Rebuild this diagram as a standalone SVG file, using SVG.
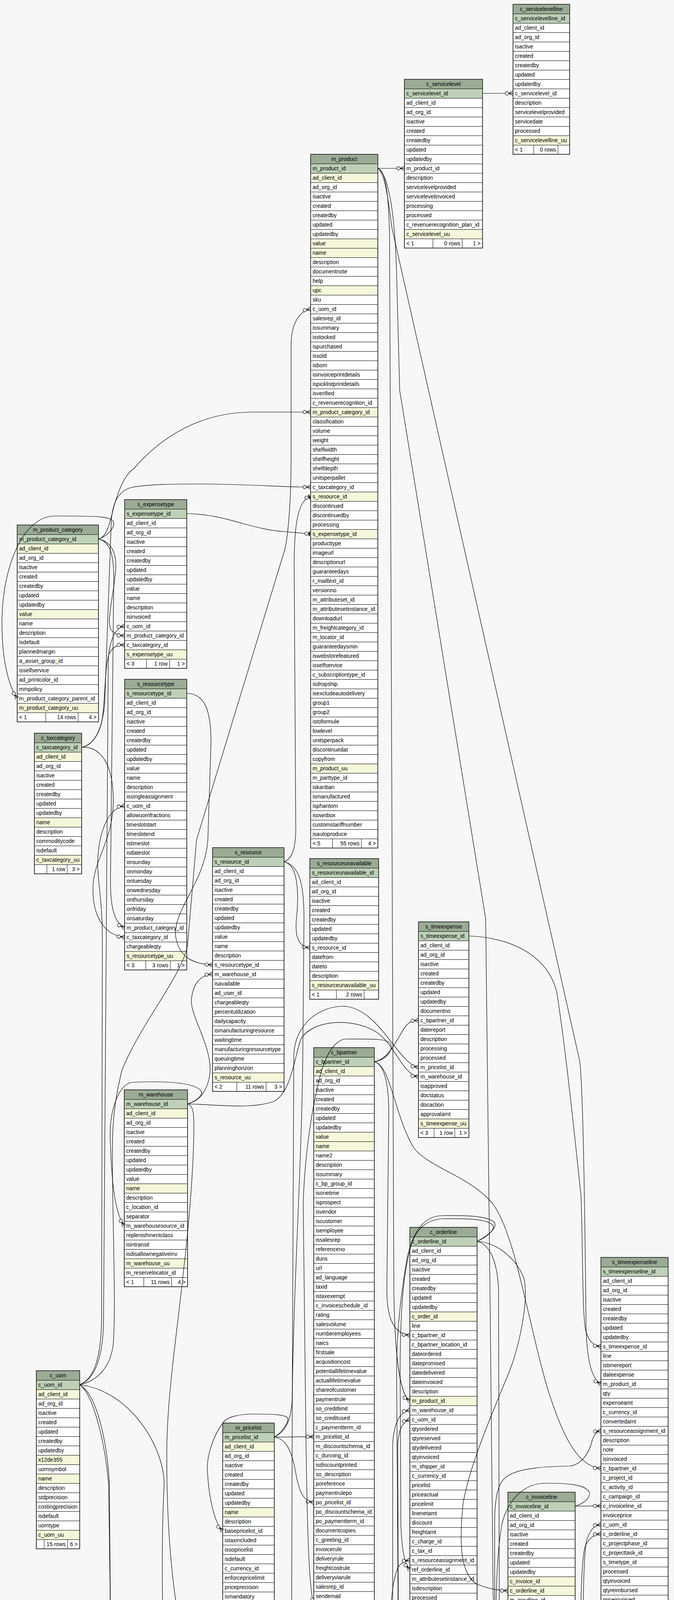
<svg xmlns="http://www.w3.org/2000/svg" width="1725" height="5210" viewBox="0 0 1725 5210">
<style>
text{font-family:"Liberation Sans",Arial,Helvetica,sans-serif;font-size:14px;fill:#000}
.c{text-anchor:middle}
.r{text-anchor:end}
.b{fill:#fff}
.h{fill:#9bab96}
.p{fill:#bed1b8}
.i{fill:#f4f7da}
.o{fill:none;stroke:#3a3a3a;stroke-width:2}
.l{fill:none;stroke:#000;stroke-width:1}
.e{fill:none;stroke:#000;stroke-width:1.2}
.cr{marker-end:url(#cr)}
.te{marker-end:url(#te)}
</style>
<defs>
<pattern id="rw" patternUnits="userSpaceOnUse" width="300" height="24"><rect width="300" height="1" fill="#000"/></pattern>
<marker id="cr" markerUnits="userSpaceOnUse" orient="auto" refX="0" refY="0" markerWidth="1" markerHeight="1" overflow="visible">
<path d="M-11,0L0,-5.5M-11,0L0,0M-11,0L0,5.5" fill="none" stroke="#000" stroke-width="1.2"/>
<circle cx="-15.3" cy="0" r="4.3" fill="#f7f7f7" stroke="#000" stroke-width="1.2"/>
</marker>
<marker id="te" markerUnits="userSpaceOnUse" orient="auto" refX="0" refY="0" markerWidth="1" markerHeight="1" overflow="visible">
<path d="M-3.5,-5.5V5.5" fill="none" stroke="#000" stroke-width="3"/>
<circle cx="-10.8" cy="0" r="4.3" fill="#f7f7f7" stroke="#000" stroke-width="1.2"/>
</marker>
</defs>
<rect width="1725" height="5210" fill="#f7f7f7"/>

<g id="c_servicelevelline" transform="translate(1313,11)">
<rect class="b" width="145" height="384"/><rect class="h" width="145" height="24"/><rect class="p" y="24" width="145" height="24"/>
<rect class="i" y="336" width="145" height="24"/>
<rect fill="url(#rw)" y="24" width="145" height="337"/><path class="l" d="M53 360V384M115 360V384"/><rect class="o" width="145" height="384"/>
<text class="c" x="72.5" y="17">c_servicelevelline</text>
<text x="5" y="41">c_servicelevelline_id</text><text x="5" y="65">ad_client_id</text><text x="5" y="89">ad_org_id</text><text x="5" y="113">isactive</text><text x="5" y="137">created</text><text x="5" y="161">createdby</text><text x="5" y="185">updated</text><text x="5" y="209">updatedby</text><text x="5" y="233">c_servicelevel_id</text><text x="5" y="257">description</text><text x="5" y="281">servicelevelprovided</text><text x="5" y="305">servicedate</text><text x="5" y="329">processed</text><text x="5" y="353">c_servicelevelline_uu</text>
<text x="5" y="377">&lt; 1</text><text class="r" x="110" y="377">0 rows</text>
</g>

<g id="c_servicelevel" transform="translate(1035,203)">
<rect class="b" width="200" height="432"/><rect class="h" width="200" height="24"/><rect class="p" y="24" width="200" height="24"/>
<rect class="i" y="384" width="200" height="24"/>
<rect fill="url(#rw)" y="24" width="200" height="385"/><path class="l" d="M73 408V432M148 408V432"/><rect class="o" width="200" height="432"/>
<text class="c" x="100" y="17">c_servicelevel</text>
<text x="5" y="41">c_servicelevel_id</text><text x="5" y="65">ad_client_id</text><text x="5" y="89">ad_org_id</text><text x="5" y="113">isactive</text><text x="5" y="137">created</text><text x="5" y="161">createdby</text><text x="5" y="185">updated</text><text x="5" y="209">updatedby</text><text x="5" y="233">m_product_id</text><text x="5" y="257">description</text><text x="5" y="281">servicelevelprovided</text><text x="5" y="305">servicelevelinvoiced</text><text x="5" y="329">processing</text><text x="5" y="353">processed</text><text x="5" y="377">c_revenuerecognition_plan_id</text><text x="5" y="401">c_servicelevel_uu</text>
<text x="5" y="425">&lt; 1</text><text class="r" x="143" y="425">0 rows</text><text class="r" x="195" y="425">1 &gt;</text>
</g>

<g id="m_product" transform="translate(795,395)">
<rect class="b" width="172" height="1776"/><rect class="h" width="172" height="24"/><rect class="p" y="24" width="172" height="24"/>
<rect class="i" y="48" width="172" height="24"/><rect class="i" y="216" width="172" height="48"/><rect class="i" y="336" width="172" height="24"/><rect class="i" y="648" width="172" height="24"/><rect class="i" y="864" width="172" height="24"/><rect class="i" y="960" width="172" height="24"/><rect class="i" y="1560" width="172" height="24"/>
<rect fill="url(#rw)" y="24" width="172" height="1729"/><path class="l" d="M56 1752V1776M130 1752V1776"/><rect class="o" width="172" height="1776"/>
<text class="c" x="86" y="17">m_product</text>
<text x="5" y="41">m_product_id</text><text x="5" y="65">ad_client_id</text><text x="5" y="89">ad_org_id</text><text x="5" y="113">isactive</text><text x="5" y="137">created</text><text x="5" y="161">createdby</text><text x="5" y="185">updated</text><text x="5" y="209">updatedby</text><text x="5" y="233">value</text><text x="5" y="257">name</text><text x="5" y="281">description</text><text x="5" y="305">documentnote</text><text x="5" y="329">help</text><text x="5" y="353">upc</text><text x="5" y="377">sku</text><text x="5" y="401">c_uom_id</text><text x="5" y="425">salesrep_id</text><text x="5" y="449">issummary</text><text x="5" y="473">isstocked</text><text x="5" y="497">ispurchased</text><text x="5" y="521">issold</text><text x="5" y="545">isbom</text><text x="5" y="569">isinvoiceprintdetails</text><text x="5" y="593">ispicklistprintdetails</text><text x="5" y="617">isverified</text><text x="5" y="641">c_revenuerecognition_id</text><text x="5" y="665">m_product_category_id</text><text x="5" y="689">classification</text><text x="5" y="713">volume</text><text x="5" y="737">weight</text><text x="5" y="761">shelfwidth</text><text x="5" y="785">shelfheight</text><text x="5" y="809">shelfdepth</text><text x="5" y="833">unitsperpallet</text><text x="5" y="857">c_taxcategory_id</text><text x="5" y="881">s_resource_id</text><text x="5" y="905">discontinued</text><text x="5" y="929">discontinuedby</text><text x="5" y="953">processing</text><text x="5" y="977">s_expensetype_id</text><text x="5" y="1001">producttype</text><text x="5" y="1025">imageurl</text><text x="5" y="1049">descriptionurl</text><text x="5" y="1073">guaranteedays</text><text x="5" y="1097">r_mailtext_id</text><text x="5" y="1121">versionno</text><text x="5" y="1145">m_attributeset_id</text><text x="5" y="1169">m_attributesetinstance_id</text><text x="5" y="1193">downloadurl</text><text x="5" y="1217">m_freightcategory_id</text><text x="5" y="1241">m_locator_id</text><text x="5" y="1265">guaranteedaysmin</text><text x="5" y="1289">iswebstorefeatured</text><text x="5" y="1313">isselfservice</text><text x="5" y="1337">c_subscriptiontype_id</text><text x="5" y="1361">isdropship</text><text x="5" y="1385">isexcludeautodelivery</text><text x="5" y="1409">group1</text><text x="5" y="1433">group2</text><text x="5" y="1457">istoformule</text><text x="5" y="1481">lowlevel</text><text x="5" y="1505">unitsperpack</text><text x="5" y="1529">discontinuedat</text><text x="5" y="1553">copyfrom</text><text x="5" y="1577">m_product_uu</text><text x="5" y="1601">m_parttype_id</text><text x="5" y="1625">iskanban</text><text x="5" y="1649">ismanufactured</text><text x="5" y="1673">isphantom</text><text x="5" y="1697">isownbox</text><text x="5" y="1721">customstariffnumber</text><text x="5" y="1745">isautoproduce</text>
<text x="5" y="1769">&lt; 5</text><text class="r" x="125" y="1769">55 rows</text><text class="r" x="167" y="1769">4 &gt;</text>
</g>

<g id="m_product_category" transform="translate(44,1344)">
<rect class="b" width="208" height="504"/><rect class="h" width="208" height="24"/><rect class="p" y="24" width="208" height="24"/>
<rect class="i" y="48" width="208" height="24"/><rect class="i" y="216" width="208" height="24"/><rect class="i" y="456" width="208" height="24"/>
<rect fill="url(#rw)" y="24" width="208" height="457"/><path class="l" d="M73 480V504M156 480V504"/><rect class="o" width="208" height="504"/>
<text class="c" x="104" y="17">m_product_category</text>
<text x="5" y="41">m_product_category_id</text><text x="5" y="65">ad_client_id</text><text x="5" y="89">ad_org_id</text><text x="5" y="113">isactive</text><text x="5" y="137">created</text><text x="5" y="161">createdby</text><text x="5" y="185">updated</text><text x="5" y="209">updatedby</text><text x="5" y="233">value</text><text x="5" y="257">name</text><text x="5" y="281">description</text><text x="5" y="305">isdefault</text><text x="5" y="329">plannedmargin</text><text x="5" y="353">a_asset_group_id</text><text x="5" y="377">isselfservice</text><text x="5" y="401">ad_printcolor_id</text><text x="5" y="425">mmpolicy</text><text x="5" y="449">m_product_category_parent_id</text><text x="5" y="473">m_product_category_uu</text>
<text x="5" y="497">&lt; 1</text><text class="r" x="151" y="497">14 rows</text><text class="r" x="203" y="497">4 &gt;</text>
</g>

<g id="c_taxcategory" transform="translate(88,1877)">
<rect class="b" width="121" height="360"/><rect class="h" width="121" height="24"/><rect class="p" y="24" width="121" height="24"/>
<rect class="i" y="48" width="121" height="24"/><rect class="i" y="216" width="121" height="24"/><rect class="i" y="312" width="121" height="24"/>
<rect fill="url(#rw)" y="24" width="121" height="313"/><path class="l" d="M32 336V360M84 336V360"/><rect class="o" width="121" height="360"/>
<text class="c" x="60.5" y="17">c_taxcategory</text>
<text x="5" y="41">c_taxcategory_id</text><text x="5" y="65">ad_client_id</text><text x="5" y="89">ad_org_id</text><text x="5" y="113">isactive</text><text x="5" y="137">created</text><text x="5" y="161">createdby</text><text x="5" y="185">updated</text><text x="5" y="209">updatedby</text><text x="5" y="233">name</text><text x="5" y="257">description</text><text x="5" y="281">commoditycode</text><text x="5" y="305">isdefault</text><text x="5" y="329">c_taxcategory_uu</text>
<text class="r" x="79" y="353">1 row</text><text class="r" x="116" y="353">3 &gt;</text>
</g>

<g id="s_expensetype" transform="translate(319,1279)">
<rect class="b" width="159" height="432"/><rect class="h" width="159" height="24"/><rect class="p" y="24" width="159" height="24"/>
<rect class="i" y="384" width="159" height="24"/>
<rect fill="url(#rw)" y="24" width="159" height="385"/><path class="l" d="M56 408V432M115 408V432"/><rect class="o" width="159" height="432"/>
<text class="c" x="79.5" y="17">s_expensetype</text>
<text x="5" y="41">s_expensetype_id</text><text x="5" y="65">ad_client_id</text><text x="5" y="89">ad_org_id</text><text x="5" y="113">isactive</text><text x="5" y="137">created</text><text x="5" y="161">createdby</text><text x="5" y="185">updated</text><text x="5" y="209">updatedby</text><text x="5" y="233">value</text><text x="5" y="257">name</text><text x="5" y="281">description</text><text x="5" y="305">isinvoiced</text><text x="5" y="329">c_uom_id</text><text x="5" y="353">m_product_category_id</text><text x="5" y="377">c_taxcategory_id</text><text x="5" y="401">s_expensetype_uu</text>
<text x="5" y="425">&lt; 3</text><text class="r" x="110" y="425">1 row</text><text class="r" x="154" y="425">1 &gt;</text>
</g>

<g id="s_resourcetype" transform="translate(319,1739)">
<rect class="b" width="159" height="744"/><rect class="h" width="159" height="24"/><rect class="p" y="24" width="159" height="24"/>
<rect class="i" y="696" width="159" height="24"/>
<rect fill="url(#rw)" y="24" width="159" height="697"/><path class="l" d="M54 720V744M117 720V744"/><rect class="o" width="159" height="744"/>
<text class="c" x="79.5" y="17">s_resourcetype</text>
<text x="5" y="41">s_resourcetype_id</text><text x="5" y="65">ad_client_id</text><text x="5" y="89">ad_org_id</text><text x="5" y="113">isactive</text><text x="5" y="137">created</text><text x="5" y="161">createdby</text><text x="5" y="185">updated</text><text x="5" y="209">updatedby</text><text x="5" y="233">value</text><text x="5" y="257">name</text><text x="5" y="281">description</text><text x="5" y="305">issingleassignment</text><text x="5" y="329">c_uom_id</text><text x="5" y="353">allowuomfractions</text><text x="5" y="377">timeslotstart</text><text x="5" y="401">timeslotend</text><text x="5" y="425">istimeslot</text><text x="5" y="449">isdateslot</text><text x="5" y="473">onsunday</text><text x="5" y="497">onmonday</text><text x="5" y="521">ontuesday</text><text x="5" y="545">onwednesday</text><text x="5" y="569">onthursday</text><text x="5" y="593">onfriday</text><text x="5" y="617">onsaturday</text><text x="5" y="641">m_product_category_id</text><text x="5" y="665">c_taxcategory_id</text><text x="5" y="689">chargeableqty</text><text x="5" y="713">s_resourcetype_uu</text>
<text x="5" y="737">&lt; 3</text><text class="r" x="112" y="737">3 rows</text><text class="r" x="154" y="737">1 &gt;</text>
</g>

<g id="s_resource" transform="translate(544,2170)">
<rect class="b" width="183" height="624"/><rect class="h" width="183" height="24"/><rect class="p" y="24" width="183" height="24"/>
<rect class="i" y="576" width="183" height="24"/>
<rect fill="url(#rw)" y="24" width="183" height="577"/><path class="l" d="M62 600V624M137 600V624"/><rect class="o" width="183" height="624"/>
<text class="c" x="91.5" y="17">s_resource</text>
<text x="5" y="41">s_resource_id</text><text x="5" y="65">ad_client_id</text><text x="5" y="89">ad_org_id</text><text x="5" y="113">isactive</text><text x="5" y="137">created</text><text x="5" y="161">createdby</text><text x="5" y="185">updated</text><text x="5" y="209">updatedby</text><text x="5" y="233">value</text><text x="5" y="257">name</text><text x="5" y="281">description</text><text x="5" y="305">s_resourcetype_id</text><text x="5" y="329">m_warehouse_id</text><text x="5" y="353">isavailable</text><text x="5" y="377">ad_user_id</text><text x="5" y="401">chargeableqty</text><text x="5" y="425">percentutilization</text><text x="5" y="449">dailycapacity</text><text x="5" y="473">ismanufacturingresource</text><text x="5" y="497">waitingtime</text><text x="5" y="521">manufacturingresourcetype</text><text x="5" y="545">queuingtime</text><text x="5" y="569">planninghorizon</text><text x="5" y="593">s_resource_uu</text>
<text x="5" y="617">&lt; 2</text><text class="r" x="132" y="617">11 rows</text><text class="r" x="178" y="617">3 &gt;</text>
</g>

<g id="s_resourceunavailable" transform="translate(793,2198)">
<rect class="b" width="176" height="360"/><rect class="h" width="176" height="24"/><rect class="p" y="24" width="176" height="24"/>
<rect class="i" y="312" width="176" height="24"/>
<rect fill="url(#rw)" y="24" width="176" height="313"/><path class="l" d="M68 336V360M139 336V360"/><rect class="o" width="176" height="360"/>
<text class="c" x="88" y="17">s_resourceunavailable</text>
<text x="5" y="41">s_resourceunavailable_id</text><text x="5" y="65">ad_client_id</text><text x="5" y="89">ad_org_id</text><text x="5" y="113">isactive</text><text x="5" y="137">created</text><text x="5" y="161">createdby</text><text x="5" y="185">updated</text><text x="5" y="209">updatedby</text><text x="5" y="233">s_resource_id</text><text x="5" y="257">datefrom</text><text x="5" y="281">dateto</text><text x="5" y="305">description</text><text x="5" y="329">s_resourceunavailable_uu</text>
<text x="5" y="353">&lt; 1</text><text class="r" x="134" y="353">2 rows</text>
</g>

<g id="s_timeexpense" transform="translate(1071,2360)">
<rect class="b" width="129" height="552"/><rect class="h" width="129" height="24"/><rect class="p" y="24" width="129" height="24"/>
<rect class="i" y="504" width="129" height="24"/>
<rect fill="url(#rw)" y="24" width="129" height="505"/><path class="l" d="M40 528V552M93 528V552"/><rect class="o" width="129" height="552"/>
<text class="c" x="64.5" y="17">s_timeexpense</text>
<text x="5" y="41">s_timeexpense_id</text><text x="5" y="65">ad_client_id</text><text x="5" y="89">ad_org_id</text><text x="5" y="113">isactive</text><text x="5" y="137">created</text><text x="5" y="161">createdby</text><text x="5" y="185">updated</text><text x="5" y="209">updatedby</text><text x="5" y="233">documentno</text><text x="5" y="257">c_bpartner_id</text><text x="5" y="281">datereport</text><text x="5" y="305">description</text><text x="5" y="329">processing</text><text x="5" y="353">processed</text><text x="5" y="377">m_pricelist_id</text><text x="5" y="401">m_warehouse_id</text><text x="5" y="425">isapproved</text><text x="5" y="449">docstatus</text><text x="5" y="473">docaction</text><text x="5" y="497">approvalamt</text><text x="5" y="521">s_timeexpense_uu</text>
<text x="5" y="545">&lt; 3</text><text class="r" x="88" y="545">1 row</text><text class="r" x="124" y="545">1 &gt;</text>
</g>

<g id="m_warehouse" transform="translate(318,2790)">
<rect class="b" width="162" height="504"/><rect class="h" width="162" height="24"/><rect class="p" y="24" width="162" height="24"/>
<rect class="i" y="48" width="162" height="24"/><rect class="i" y="240" width="162" height="24"/><rect class="i" y="432" width="162" height="24"/>
<rect fill="url(#rw)" y="24" width="162" height="457"/><path class="l" d="M50 480V504M121 480V504"/><rect class="o" width="162" height="504"/>
<text class="c" x="81" y="17">m_warehouse</text>
<text x="5" y="41">m_warehouse_id</text><text x="5" y="65">ad_client_id</text><text x="5" y="89">ad_org_id</text><text x="5" y="113">isactive</text><text x="5" y="137">created</text><text x="5" y="161">createdby</text><text x="5" y="185">updated</text><text x="5" y="209">updatedby</text><text x="5" y="233">value</text><text x="5" y="257">name</text><text x="5" y="281">description</text><text x="5" y="305">c_location_id</text><text x="5" y="329">separator</text><text x="5" y="353">m_warehousesource_id</text><text x="5" y="377">replenishmentclass</text><text x="5" y="401">isintransit</text><text x="5" y="425">isdisallownegativeinv</text><text x="5" y="449">m_warehouse_uu</text><text x="5" y="473">m_reservelocator_id</text>
<text x="5" y="497">&lt; 1</text><text class="r" x="116" y="497">11 rows</text><text class="r" x="157" y="497">4 &gt;</text>
</g>

<g id="c_bpartner" transform="translate(803,2682)">
<rect class="b" width="155" height="1824"/><rect class="h" width="155" height="24"/><rect class="p" y="24" width="155" height="24"/>
<rect class="i" y="48" width="155" height="24"/><rect class="i" y="216" width="155" height="48"/><rect class="i" y="1512" width="155" height="24"/><rect class="i" y="1704" width="155" height="24"/>
<rect fill="url(#rw)" y="24" width="155" height="1777"/><path class="l" d="M47 1800V1824M116 1800V1824"/><rect class="o" width="155" height="1824"/>
<text class="c" x="77.5" y="17">c_bpartner</text>
<text x="5" y="41">c_bpartner_id</text><text x="5" y="65">ad_client_id</text><text x="5" y="89">ad_org_id</text><text x="5" y="113">isactive</text><text x="5" y="137">created</text><text x="5" y="161">createdby</text><text x="5" y="185">updated</text><text x="5" y="209">updatedby</text><text x="5" y="233">value</text><text x="5" y="257">name</text><text x="5" y="281">name2</text><text x="5" y="305">description</text><text x="5" y="329">issummary</text><text x="5" y="353">c_bp_group_id</text><text x="5" y="377">isonetime</text><text x="5" y="401">isprospect</text><text x="5" y="425">isvendor</text><text x="5" y="449">iscustomer</text><text x="5" y="473">isemployee</text><text x="5" y="497">issalesrep</text><text x="5" y="521">referenceno</text><text x="5" y="545">duns</text><text x="5" y="569">url</text><text x="5" y="593">ad_language</text><text x="5" y="617">taxid</text><text x="5" y="641">istaxexempt</text><text x="5" y="665">c_invoiceschedule_id</text><text x="5" y="689">rating</text><text x="5" y="713">salesvolume</text><text x="5" y="737">numberemployees</text><text x="5" y="761">naics</text><text x="5" y="785">firstsale</text><text x="5" y="809">acqusitioncost</text><text x="5" y="833">potentiallifetimevalue</text><text x="5" y="857">actuallifetimevalue</text><text x="5" y="881">shareofcustomer</text><text x="5" y="905">paymentrule</text><text x="5" y="929">so_creditlimit</text><text x="5" y="953">so_creditused</text><text x="5" y="977">c_paymentterm_id</text><text x="5" y="1001">m_pricelist_id</text><text x="5" y="1025">m_discountschema_id</text><text x="5" y="1049">c_dunning_id</text><text x="5" y="1073">isdiscountprinted</text><text x="5" y="1097">so_description</text><text x="5" y="1121">poreference</text><text x="5" y="1145">paymentrulepo</text><text x="5" y="1169">po_pricelist_id</text><text x="5" y="1193">po_discountschema_id</text><text x="5" y="1217">po_paymentterm_id</text><text x="5" y="1241">documentcopies</text><text x="5" y="1265">c_greeting_id</text><text x="5" y="1289">invoicerule</text><text x="5" y="1313">deliveryrule</text><text x="5" y="1337">freightcostrule</text><text x="5" y="1361">deliveryviarule</text><text x="5" y="1385">salesrep_id</text><text x="5" y="1409">sendemail</text><text x="5" y="1433">bpartner_parent_id</text><text x="5" y="1457">invoice_printformat_id</text><text x="5" y="1481">socreditstatus</text><text x="5" y="1505">shelflifeminpct</text><text x="5" y="1529">ad_orgbp_id</text><text x="5" y="1553">flatdiscount</text><text x="5" y="1577">totalopenbalance</text><text x="5" y="1601">dunninggrace</text><text x="5" y="1625">c_taxgroup_id</text><text x="5" y="1649">logo_id</text><text x="5" y="1673">ispotaxexempt</text><text x="5" y="1697">ismanufacturer</text><text x="5" y="1721">c_bpartner_uu</text><text x="5" y="1745">customerprofileid</text><text x="5" y="1769">default1099box_id</text><text x="5" y="1793">is1099vendor</text>
<text x="5" y="1817">&lt; 3</text><text class="r" x="111" y="1817">18 rows</text><text class="r" x="150" y="1817">4 &gt;</text>
</g>

<g id="m_pricelist" transform="translate(570,3643)">
<rect class="b" width="132" height="528"/><rect class="h" width="132" height="24"/><rect class="p" y="24" width="132" height="24"/>
<rect class="i" y="48" width="132" height="24"/><rect class="i" y="216" width="132" height="24"/><rect class="i" y="480" width="132" height="24"/>
<rect fill="url(#rw)" y="24" width="132" height="481"/><path class="l" d="M40 504V528M97 504V528"/><rect class="o" width="132" height="528"/>
<text class="c" x="66" y="17">m_pricelist</text>
<text x="5" y="41">m_pricelist_id</text><text x="5" y="65">ad_client_id</text><text x="5" y="89">ad_org_id</text><text x="5" y="113">isactive</text><text x="5" y="137">created</text><text x="5" y="161">createdby</text><text x="5" y="185">updated</text><text x="5" y="209">updatedby</text><text x="5" y="233">name</text><text x="5" y="257">description</text><text x="5" y="281">basepricelist_id</text><text x="5" y="305">istaxincluded</text><text x="5" y="329">issopricelist</text><text x="5" y="353">isdefault</text><text x="5" y="377">c_currency_id</text><text x="5" y="401">enforcepricelimit</text><text x="5" y="425">priceprecision</text><text x="5" y="449">ismandatory</text><text x="5" y="473">ispresentforproduct</text><text x="5" y="497">m_pricelist_uu</text>
<text x="5" y="521">&lt; 1</text><text class="r" x="92" y="521">4 rows</text><text class="r" x="127" y="521">4 &gt;</text>
</g>

<g id="c_uom" transform="translate(93,3509)">
<rect class="b" width="111" height="456"/><rect class="h" width="111" height="24"/><rect class="p" y="24" width="111" height="24"/>
<rect class="i" y="48" width="111" height="24"/><rect class="i" y="216" width="111" height="24"/><rect class="i" y="264" width="111" height="24"/><rect class="i" y="408" width="111" height="24"/>
<rect fill="url(#rw)" y="24" width="111" height="409"/><path class="l" d="M20 432V456M80 432V456"/><rect class="o" width="111" height="456"/>
<text class="c" x="55.5" y="17">c_uom</text>
<text x="5" y="41">c_uom_id</text><text x="5" y="65">ad_client_id</text><text x="5" y="89">ad_org_id</text><text x="5" y="113">isactive</text><text x="5" y="137">created</text><text x="5" y="161">updated</text><text x="5" y="185">createdby</text><text x="5" y="209">updatedby</text><text x="5" y="233">x12de355</text><text x="5" y="257">uomsymbol</text><text x="5" y="281">name</text><text x="5" y="305">description</text><text x="5" y="329">stdprecision</text><text x="5" y="353">costingprecision</text><text x="5" y="377">isdefault</text><text x="5" y="401">uomtype</text><text x="5" y="425">c_uom_uu</text>
<text class="r" x="75" y="449">15 rows</text><text class="r" x="106" y="449">6 &gt;</text>
</g>

<g id="c_orderline" transform="translate(1049,3142)">
<rect class="b" width="172" height="1464"/><rect class="h" width="172" height="24"/><rect class="p" y="24" width="172" height="24"/>
<rect class="i" y="216" width="172" height="24"/><rect class="i" y="432" width="172" height="24"/><rect class="i" y="1368" width="172" height="24"/>
<rect fill="url(#rw)" y="24" width="172" height="1417"/><path class="l" d="M56 1440V1464M129 1440V1464"/><rect class="o" width="172" height="1464"/>
<text class="c" x="86" y="17">c_orderline</text>
<text x="5" y="41">c_orderline_id</text><text x="5" y="65">ad_client_id</text><text x="5" y="89">ad_org_id</text><text x="5" y="113">isactive</text><text x="5" y="137">created</text><text x="5" y="161">createdby</text><text x="5" y="185">updated</text><text x="5" y="209">updatedby</text><text x="5" y="233">c_order_id</text><text x="5" y="257">line</text><text x="5" y="281">c_bpartner_id</text><text x="5" y="305">c_bpartner_location_id</text><text x="5" y="329">dateordered</text><text x="5" y="353">datepromised</text><text x="5" y="377">datedelivered</text><text x="5" y="401">dateinvoiced</text><text x="5" y="425">description</text><text x="5" y="449">m_product_id</text><text x="5" y="473">m_warehouse_id</text><text x="5" y="497">c_uom_id</text><text x="5" y="521">qtyordered</text><text x="5" y="545">qtyreserved</text><text x="5" y="569">qtydelivered</text><text x="5" y="593">qtyinvoiced</text><text x="5" y="617">m_shipper_id</text><text x="5" y="641">c_currency_id</text><text x="5" y="665">pricelist</text><text x="5" y="689">priceactual</text><text x="5" y="713">pricelimit</text><text x="5" y="737">linenetamt</text><text x="5" y="761">discount</text><text x="5" y="785">freightamt</text><text x="5" y="809">c_charge_id</text><text x="5" y="833">c_tax_id</text><text x="5" y="857">s_resourceassignment_id</text><text x="5" y="881">ref_orderline_id</text><text x="5" y="905">m_attributesetinstance_id</text><text x="5" y="929">isdescription</text><text x="5" y="953">processed</text><text x="5" y="977">qtyentered</text><text x="5" y="1001">priceentered</text><text x="5" y="1025">c_project_id</text><text x="5" y="1049">pricecost</text><text x="5" y="1073">qtylostsales</text><text x="5" y="1097">c_projectphase_id</text><text x="5" y="1121">c_projecttask_id</text><text x="5" y="1145">rrstartdate</text><text x="5" y="1169">rramt</text><text x="5" y="1193">c_campaign_id</text><text x="5" y="1217">c_activity_id</text><text x="5" y="1241">user1_id</text><text x="5" y="1265">user2_id</text><text x="5" y="1289">ad_orgtrx_id</text><text x="5" y="1313">link_orderline_id</text><text x="5" y="1337">pp_cost_collector_id</text><text x="5" y="1361">m_promotion_id</text><text x="5" y="1385">c_orderline_uu</text><text x="5" y="1409">createshipment</text><text x="5" y="1433">createproduction</text>
<text x="5" y="1457">&lt; 7</text><text class="r" x="124" y="1457">27 rows</text><text class="r" x="167" y="1457">4 &gt;</text>
</g>

<g id="s_timeexpenseline" transform="translate(1538,3219)">
<rect class="b" width="172" height="984"/><rect class="h" width="172" height="24"/><rect class="p" y="24" width="172" height="24"/>
<rect class="i" y="912" width="172" height="24"/>
<rect fill="url(#rw)" y="24" width="172" height="937"/><path class="l" d="M65 960V984M136 960V984"/><rect class="o" width="172" height="984"/>
<text class="c" x="86" y="17">s_timeexpenseline</text>
<text x="5" y="41">s_timeexpenseline_id</text><text x="5" y="65">ad_client_id</text><text x="5" y="89">ad_org_id</text><text x="5" y="113">isactive</text><text x="5" y="137">created</text><text x="5" y="161">createdby</text><text x="5" y="185">updated</text><text x="5" y="209">updatedby</text><text x="5" y="233">s_timeexpense_id</text><text x="5" y="257">line</text><text x="5" y="281">istimereport</text><text x="5" y="305">dateexpense</text><text x="5" y="329">m_product_id</text><text x="5" y="353">qty</text><text x="5" y="377">expenseamt</text><text x="5" y="401">c_currency_id</text><text x="5" y="425">convertedamt</text><text x="5" y="449">s_resourceassignment_id</text><text x="5" y="473">description</text><text x="5" y="497">note</text><text x="5" y="521">isinvoiced</text><text x="5" y="545">c_bpartner_id</text><text x="5" y="569">c_project_id</text><text x="5" y="593">c_activity_id</text><text x="5" y="617">c_campaign_id</text><text x="5" y="641">c_invoiceline_id</text><text x="5" y="665">invoiceprice</text><text x="5" y="689">c_uom_id</text><text x="5" y="713">c_orderline_id</text><text x="5" y="737">c_projectphase_id</text><text x="5" y="761">c_projecttask_id</text><text x="5" y="785">s_timetype_id</text><text x="5" y="809">processed</text><text x="5" y="833">qtyinvoiced</text><text x="5" y="857">qtyreimbursed</text><text x="5" y="881">priceinvoiced</text><text x="5" y="905">pricereimbursed</text><text x="5" y="929">s_timeexpenseline_uu</text><text x="5" y="953">priceentered</text>
<text x="5" y="977">&lt; 7</text><text class="r" x="131" y="977">4 rows</text>
</g>

<g id="c_invoiceline" transform="translate(1300,3820)">
<rect class="b" width="172" height="1272"/><rect class="h" width="172" height="24"/><rect class="p" y="24" width="172" height="24"/>
<rect class="i" y="216" width="172" height="48"/><rect class="i" y="336" width="172" height="24"/><rect class="i" y="1176" width="172" height="24"/>
<rect fill="url(#rw)" y="24" width="172" height="1225"/><path class="l" d="M56 1248V1272M129 1248V1272"/><rect class="o" width="172" height="1272"/>
<text class="c" x="86" y="17">c_invoiceline</text>
<text x="5" y="41">c_invoiceline_id</text><text x="5" y="65">ad_client_id</text><text x="5" y="89">ad_org_id</text><text x="5" y="113">isactive</text><text x="5" y="137">created</text><text x="5" y="161">createdby</text><text x="5" y="185">updated</text><text x="5" y="209">updatedby</text><text x="5" y="233">c_invoice_id</text><text x="5" y="257">c_orderline_id</text><text x="5" y="281">m_inoutline_id</text><text x="5" y="305">line</text><text x="5" y="329">description</text><text x="5" y="353">m_product_id</text><text x="5" y="377">qtyinvoiced</text><text x="5" y="401">pricelist</text><text x="5" y="425">priceactual</text><text x="5" y="449">pricelimit</text><text x="5" y="473">linenetamt</text><text x="5" y="497">c_charge_id</text><text x="5" y="521">c_uom_id</text><text x="5" y="545">c_tax_id</text><text x="5" y="569">s_resourceassignment_id</text><text x="5" y="593">a_asset_id</text><text x="5" y="617">taxamt</text><text x="5" y="641">m_attributesetinstance_id</text><text x="5" y="665">isdescription</text><text x="5" y="689">isprinted</text><text x="5" y="713">linetotalamt</text><text x="5" y="737">ref_invoiceline_id</text><text x="5" y="761">processed</text><text x="5" y="785">qtyentered</text><text x="5" y="809">priceentered</text><text x="5" y="833">c_project_id</text><text x="5" y="857">c_projectphase_id</text><text x="5" y="881">c_projecttask_id</text><text x="5" y="905">rrstartdate</text><text x="5" y="929">rramt</text><text x="5" y="953">c_campaign_id</text><text x="5" y="977">c_activity_id</text><text x="5" y="1001">user1_id</text><text x="5" y="1025">user2_id</text><text x="5" y="1049">ad_orgtrx_id</text><text x="5" y="1073">m_rmaline_id</text><text x="5" y="1097">a_createasset</text><text x="5" y="1121">a_processed</text><text x="5" y="1145">a_capvsexp</text><text x="5" y="1169">a_asset_group_id</text><text x="5" y="1193">c_invoiceline_uu</text><text x="5" y="1217">isfixedassetinvoice</text><text x="5" y="1241">c_1099box_id</text>
<text x="5" y="1265">&lt; 5</text><text class="r" x="124" y="1265">24 rows</text><text class="r" x="167" y="1265">2 &gt;</text>
</g>

<g id="s_resourceassignment" transform="translate(793,4607)">
<rect class="b" width="177" height="432"/><rect class="h" width="177" height="24"/><rect class="p" y="24" width="177" height="24"/>
<rect class="i" y="384" width="177" height="24"/>
<rect fill="url(#rw)" y="24" width="177" height="385"/><path class="l" d="M62 408V432M130 408V432"/><rect class="o" width="177" height="432"/>
<text class="c" x="88.5" y="17">s_resourceassignment</text>
<text x="5" y="41">s_resourceassignment_id</text><text x="5" y="65">ad_client_id</text><text x="5" y="89">ad_org_id</text><text x="5" y="113">isactive</text><text x="5" y="137">created</text><text x="5" y="161">createdby</text><text x="5" y="185">updated</text><text x="5" y="209">updatedby</text><text x="5" y="233">s_resource_id</text><text x="5" y="257">name</text><text x="5" y="281">description</text><text x="5" y="305">assigndatefrom</text><text x="5" y="329">assigndateto</text><text x="5" y="353">qty</text><text x="5" y="377">isconfirmed</text><text x="5" y="401">s_resourceassignment_uu</text>
<text x="5" y="425">&lt; 1</text><text class="r" x="125" y="425">2 rows</text><text class="r" x="172" y="425">3 &gt;</text>
</g>

<g id="connectors" class="e">
<path class="cr" d="M1235,239 L1313,239"/>
<path class="cr" d="M967,431 L1035,431"/>
<path class="cr" d="M967,431 C985,437 994,480 997,600 L1008,3300 C1010,3480 1025,3572 1049,3586"/>
<path class="cr" d="M967,431 C990,443 1010,520 1015,700 L1023,1000 L1243,2352 L1254,3300 L1262,4080 C1264,4140 1276,4163 1300,4168"/>
<path class="cr" d="M967,431 C985,440 995,520 1003,583 L1483,2713 C1492,2760 1497,3100 1500,3400 C1502,3470 1512,3530 1538,3543"/>
<path class="cr" d="M204,3545 C250,3535 283,3500 290,3440 C298,3330 285,3050 288,2914 C290,2840 300,2790 312,2740 C360,2620 465,2500 480,2420 L503,2150 L730,1403 C740,1350 745,1260 745,1180 L745,880 C746,830 765,797 795,791"/>
<path class="cr" d="M252,1380 C275,1375 283,1330 292,1295 C305,1250 320,1215 342,1200 C420,1110 520,1057 640,1055 L795,1055"/>
<path class="cr" d="M209,1913 C240,1908 262,1870 268,1800 L285,1330 C290,1280 305,1258 335,1248 C380,1239 450,1239 520,1239 C650,1240 720,1247 795,1247"/>
<path class="te" d="M727,2206 C745,2200 755,2180 757,2130 L753,1460 C752,1330 765,1280 795,1271"/>
<path class="te" d="M478,1315 C580,1316 640,1356 730,1361 L795,1367"/>
<path class="cr" d="M252,1380 C280,1385 300,1410 296,1460 C290,1530 272,1590 284,1612 C293,1624 305,1627 319,1627"/>
<path class="cr" d="M252,1380 C285,1386 293,1430 291,1500 L283,2230 C281,2300 286,2360 319,2375"/>
<path class="cr" d="M252,1380 C275,1372 296,1350 290,1335 C282,1321 240,1321 140,1321 C60,1321 5,1450 5,1594 C5,1700 25,1760 44,1788"/>
<path class="cr" d="M209,1913 C235,1908 255,1880 262,1840 C270,1780 268,1700 280,1672 C290,1655 300,1651 319,1651"/>
<path class="cr" d="M209,1913 C260,1910 290,1960 290,2050 C290,2150 240,2200 238,2270 C236,2350 270,2395 319,2399"/>
<path class="cr" d="M204,3545 C245,3530 264,3470 265,3380 L277,1700 C277,1655 290,1606 319,1603"/>
<path class="cr" d="M204,3545 C240,3530 258,3480 260,3380 L262,2400 C262,2300 248,2250 250,2200 C255,2120 280,2068 319,2063"/>
<path class="cr" d="M478,1775 C520,1776 540,1810 540,1900 L532,2150 C525,2260 440,2330 450,2400 C460,2455 500,2468 544,2470"/>
<path class="cr" d="M480,2826 C505,2820 530,2800 537,2750 C545,2680 485,2600 490,2557 C495,2515 515,2496 544,2494"/>
<path class="cr" d="M727,2206 C760,2215 765,2270 760,2340 C752,2400 765,2424 793,2426"/>
<path class="cr" d="M727,2206 C765,2215 778,2260 778,2350 L775,2700 C772,3000 750,3300 748,3600 L745,4600 C745,4720 765,4815 793,4835"/>
<path class="cr" d="M958,2718 C1000,2712 1025,2640 1040,2625 C1048,2616 1056,2613 1071,2612"/>
<path class="cr" d="M702,3679 C730,3665 745,3640 748,3580 L752,2700 C755,2620 820,2575 880,2576 C970,2580 1020,2725 1071,2732"/>
<path class="cr" d="M480,2826 C560,2828 640,2840 700,2820 C745,2800 755,2700 770,2660 C800,2610 900,2605 960,2640 C1010,2670 1030,2752 1071,2756"/>
<path class="cr" d="M1200,2396 C1300,2400 1400,2440 1425,2540 C1450,2700 1475,2950 1487,3061 C1492,3200 1490,3380 1500,3410 C1508,3435 1520,3445 1538,3447"/>
<path class="cr" d="M480,2826 C505,2818 525,2800 512,2790 C490,2770 420,2767 336,2771 C300,2780 280,2850 282,2914 C285,3000 290,3100 318,3138"/>
<path class="cr" d="M480,2826 C495,2830 497,2850 496,2900 C495,3000 482,3150 470,3250 C455,3400 430,3550 427,3700 C425,3900 440,4100 480,4250 C550,4440 650,4480 740,4493 C800,4515 860,4556 928,4553 C985,4545 1004,4500 1005,4400 L1005,3700 C1007,3650 1020,3615 1049,3610"/>
<path class="cr" d="M702,3679 L803,3678"/>
<path class="cr" d="M702,3679 C730,3682 745,3710 755,3760 C765,3820 775,3842 803,3846"/>
<path class="cr" d="M958,2718 C990,2712 1005,2690 1000,2672 C990,2658 950,2660 880,2660 C850,2670 830,2710 818,2760 C800,2830 780,2950 776,3080 L783,3680 C786,3900 790,4060 803,4110"/>
<path class="cr" d="M958,2718 C985,2725 995,2780 995,2850 L990,3300 C990,3380 1010,3415 1049,3418"/>
<path class="cr" d="M958,2718 C1000,2725 1010,2860 1060,2940 C1100,2990 1200,3010 1260,3080 C1320,3160 1350,3380 1400,3550 C1440,3680 1480,3755 1538,3759"/>
<path class="cr" d="M702,3679 C720,3668 737,3645 737,3632 C735,3621 700,3620 647,3620 C610,3620 585,3628 575,3637 C540,3680 528,3740 531,3768 C535,3840 550,3900 570,3919"/>
<path class="cr" d="M204,3545 C250,3570 275,3700 280,3800 L284,4300 C286,4450 400,4560 740,4570 C860,4590 960,4580 1000,4545 C1018,4510 1020,4420 1020,4300 L1018,3700 C1020,3660 1030,3640 1049,3634"/>
<path class="cr" d="M204,3545 C330,3560 420,3700 420,3800 C410,4000 419,4200 420,4400 C430,4700 550,5000 740,5033 C800,5058 860,5088 900,5084 C1000,5072 1100,5020 1180,4962 C1240,4900 1260,4800 1261,4700 L1263,4420 C1265,4360 1280,4340 1300,4336"/>
<path class="cr" d="M204,3545 C240,3570 270,3700 278,3800 L285,4300 C290,4700 300,5000 400,5100 C480,5125 600,5122 740,5122 L1148,5122 C1250,5125 1300,5158 1368,5158 C1420,5158 1475,5130 1491,5104 L1491,4300 C1492,4000 1497,3950 1504,3936 C1513,3913 1522,3905 1538,3903"/>
<path class="cr" d="M970,4643 C995,4635 1010,4600 1012,4520 L998,4300 C995,4150 1000,4050 1020,4010 C1030,3998 1040,3995 1049,3994"/>
<path class="cr" d="M1221,3178 C1250,3165 1270,3145 1260,3135 C1240,3118 1180,3120 1133,3120 C1090,3122 1065,3150 1055,3180 C1032,3250 1025,3350 1024,3500 L1026,3900 C1028,3970 1036,4005 1049,4018"/>
<path class="cr" d="M1221,3178 C1255,3160 1275,3140 1264,3128 C1242,3110 1180,3112 1130,3112 C1080,3114 1055,3160 1042,3220 C1028,3300 1016,3400 1015,3500 L1020,4300 C1022,4390 1030,4435 1049,4450"/>
<path class="cr" d="M1221,3178 C1270,3180 1320,3220 1340,3270 C1355,3320 1330,3450 1300,3520 C1250,3640 1200,3760 1185,3850 C1175,3950 1178,4030 1220,4055 C1250,4068 1280,4072 1300,4072"/>
<path class="cr" d="M1221,3178 C1250,3185 1272,3220 1276,3300 L1280,5040 C1282,5100 1320,5140 1368,5148 C1420,5150 1465,5120 1482,5090 L1484,4300 C1486,4010 1492,3962 1502,3950 C1512,3935 1522,3928 1538,3927"/>
<path class="cr" d="M970,4643 C1010,4650 1100,4668 1180,4665 C1230,4660 1255,4620 1258,4560 L1260,4450 C1262,4400 1280,4386 1300,4384"/>
<path class="cr" d="M1472,3856 C1505,3845 1515,3825 1505,3815 C1490,3800 1450,3797 1397,3797 C1340,3797 1300,3840 1285,3900 C1270,3980 1268,4100 1268,4300 L1270,4480 C1272,4530 1285,4548 1300,4552"/>
<path class="cr" d="M1472,3856 L1538,3855"/>
<path class="cr" d="M970,4643 C1030,4662 1120,4692 1200,4675 C1248,4660 1266,4600 1266,4500 L1266,3900 C1266,3830 1275,3792 1300,3778 C1330,3758 1400,3754 1460,3753 C1490,3748 1508,3718 1515,3690 C1520,3672 1528,3664 1538,3663"/>
</g>

<text x="5" y="5203">Generated by SchemaSpy</text>
</svg>
